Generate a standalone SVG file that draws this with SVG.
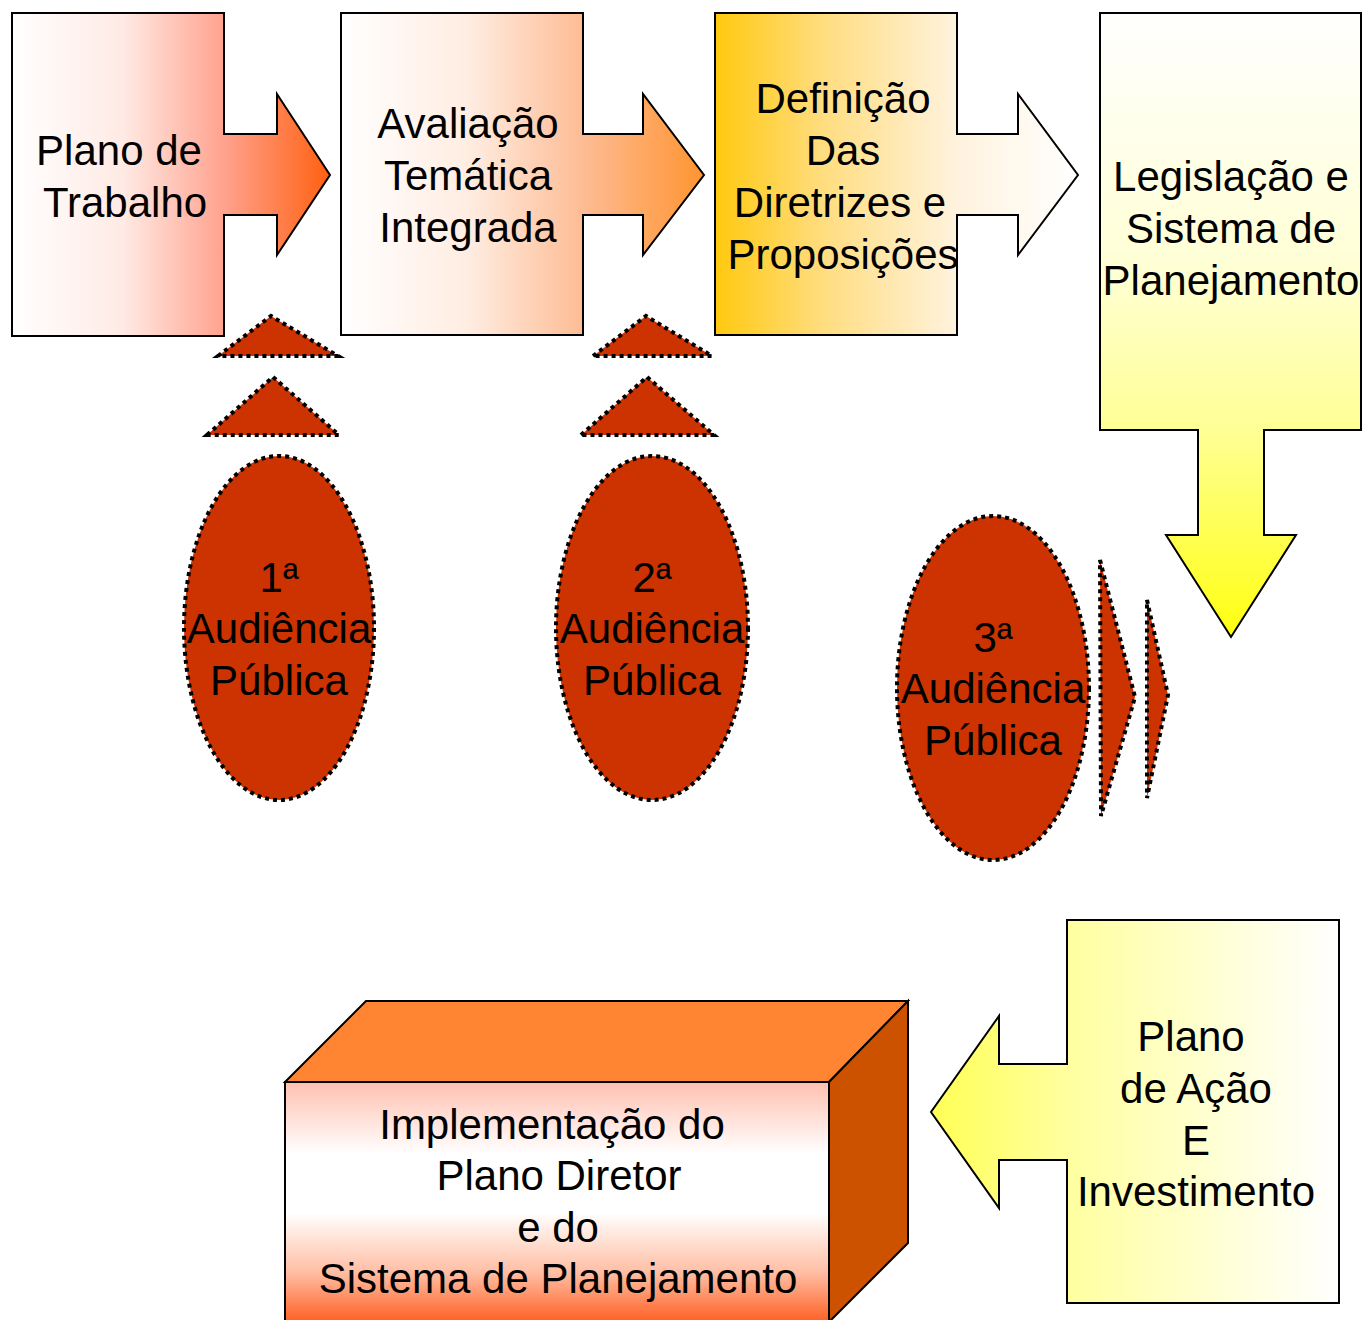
<svg xmlns="http://www.w3.org/2000/svg" width="1365" height="1320" viewBox="0 0 1365 1320">
  <defs>
    <linearGradient id="g1" gradientUnits="userSpaceOnUse" x1="12" y1="0" x2="330" y2="0">
      <stop offset="0" stop-color="#FFFFFF"/>
      <stop offset="0.35" stop-color="#FFEAE4"/>
      <stop offset="0.667" stop-color="#FFA28E"/>
      <stop offset="1" stop-color="#FF6010"/>
    </linearGradient>
    <linearGradient id="g2" gradientUnits="userSpaceOnUse" x1="341" y1="0" x2="704" y2="0">
      <stop offset="0" stop-color="#FFFFFF"/>
      <stop offset="0.35" stop-color="#FFEDE2"/>
      <stop offset="0.667" stop-color="#FDBC94"/>
      <stop offset="1" stop-color="#FF9430"/>
    </linearGradient>
    <linearGradient id="g3" gradientUnits="userSpaceOnUse" x1="715" y1="0" x2="1078" y2="0">
      <stop offset="0" stop-color="#FFC90F"/>
      <stop offset="0.3" stop-color="#FFDD80"/>
      <stop offset="0.667" stop-color="#FFF3DE"/>
      <stop offset="1" stop-color="#FFFFFF"/>
    </linearGradient>
    <linearGradient id="g4" gradientUnits="userSpaceOnUse" x1="0" y1="13" x2="0" y2="637">
      <stop offset="0" stop-color="#FFFFFF"/>
      <stop offset="0.4" stop-color="#FFFFD6"/>
      <stop offset="0.667" stop-color="#FFFF96"/>
      <stop offset="1" stop-color="#FFFF10"/>
    </linearGradient>
    <linearGradient id="g5" gradientUnits="userSpaceOnUse" x1="931" y1="0" x2="1339" y2="0">
      <stop offset="0" stop-color="#FFFF55"/>
      <stop offset="0.333" stop-color="#FFFFA0"/>
      <stop offset="1" stop-color="#FFFFFF"/>
    </linearGradient>
    <linearGradient id="g6" gradientUnits="userSpaceOnUse" x1="0" y1="1082" x2="0" y2="1320">
      <stop offset="0" stop-color="#FFC0B0"/>
      <stop offset="0.3" stop-color="#FFFFFF"/>
      <stop offset="0.55" stop-color="#FFFFFF"/>
      <stop offset="0.8" stop-color="#FFBEA4"/>
      <stop offset="1" stop-color="#FF6428"/>
    </linearGradient>
    <style>
      .box { stroke: #000; stroke-width: 2; stroke-linejoin: miter; }
      .txt { font-family: "Liberation Sans", Arial, sans-serif; font-size: 42px; fill: #000; text-anchor: middle; }
      .dot { fill: #CC3300; stroke: #000; stroke-width: 4; stroke-dasharray: 4 4; }
    </style>
  </defs>

  <g id="plano-trabalho">
    <path class="box" fill="url(#g1)" d="M12,13 H224 V134 H277 V94 L330,175 L277,255 V215 H224 V336 H12 Z"/>
    <text class="txt" x="119" y="165">Plano de</text>
    <text class="txt" x="125" y="217">Trabalho</text>
  </g>

  <g id="avaliacao">
    <path class="box" fill="url(#g2)" d="M341,13 H583 V134 H643 V94 L704,175 L643,255 V215 H583 V335 H341 Z"/>
    <text class="txt" x="468" y="138">Avaliação</text>
    <text class="txt" x="468" y="190">Temática</text>
    <text class="txt" x="468" y="242">Integrada</text>
  </g>

  <g id="definicao">
    <path class="box" fill="url(#g3)" d="M715,13 H957 V134 H1018 V94 L1078,175 L1018,255 V215 H957 V335 H715 Z"/>
    <text class="txt" x="843" y="113">Definição</text>
    <text class="txt" x="843" y="165">Das</text>
    <text class="txt" x="840" y="217">Diretrizes e</text>
    <text class="txt" x="843" y="269">Proposições</text>
  </g>

  <g id="legislacao">
    <path class="box" fill="url(#g4)" d="M1100,13 H1361 V430 H1264 V535 H1296 L1231,637 L1166,535 H1198 V430 H1100 Z"/>
    <text class="txt" x="1231" y="191">Legislação e</text>
    <text class="txt" x="1231" y="243">Sistema de</text>
    <text class="txt" x="1231" y="295">Planejamento</text>
  </g>

  <g id="audiencia-1">
    <ellipse class="dot" cx="279" cy="628" rx="95" ry="172"/>
    <text class="txt" x="279" y="592">1ª</text>
    <text class="txt" x="279" y="643">Audiência</text>
    <text class="txt" x="279" y="695">Pública</text>
  </g>

  <g id="audiencia-2">
    <ellipse class="dot" cx="652" cy="628" rx="96" ry="172"/>
    <text class="txt" x="652" y="592">2ª</text>
    <text class="txt" x="652" y="643">Audiência</text>
    <text class="txt" x="652" y="695">Pública</text>
  </g>

  <g id="audiencia-3">
    <ellipse class="dot" cx="993" cy="688" rx="96" ry="172"/>
    <text class="txt" x="993" y="652">3ª</text>
    <text class="txt" x="993" y="703">Audiência</text>
    <text class="txt" x="993" y="755">Pública</text>
  </g>

  <g id="plano-acao">
    <path class="box" fill="url(#g5)" d="M1067,920 H1339 V1303 H1067 V1160 H999 V1208 L931,1112 L999,1016 V1064 H1067 Z"/>
    <text class="txt" x="1191" y="1051">Plano</text>
    <text class="txt" x="1196" y="1103">de Ação</text>
    <text class="txt" x="1196" y="1155">E</text>
    <text class="txt" x="1196" y="1206">Investimento</text>
  </g>

  <g id="implementacao">
    <polygon class="box" fill="#FF8533" points="285,1082 366,1001 908,1001 829,1082"/>
    <polygon class="box" fill="#CC5200" points="829,1082 908,1001 908,1243 829,1322"/>
    <rect class="box" fill="url(#g6)" x="285" y="1082" width="544" height="240"/>
    <text class="txt" x="552" y="1139">Implementação do</text>
    <text class="txt" x="559" y="1190">Plano Diretor</text>
    <text class="txt" x="558" y="1242">e do</text>
    <text class="txt" x="558" y="1293">Sistema de Planejamento</text>
  </g>

  <g id="connectors">
    <polygon class="dot" points="218,356 271,316 338,356"/>
    <polygon class="dot" points="207,435 273,377 339,435"/>
    <polygon class="dot" points="593,356 646,316 712,356"/>
    <polygon class="dot" points="581,435 647,377 714,435"/>
    <polygon class="dot" points="1100,560 1135,697 1101,816"/>
    <polygon class="dot" points="1147,600 1168,695 1147,798"/>
  </g>
</svg>
